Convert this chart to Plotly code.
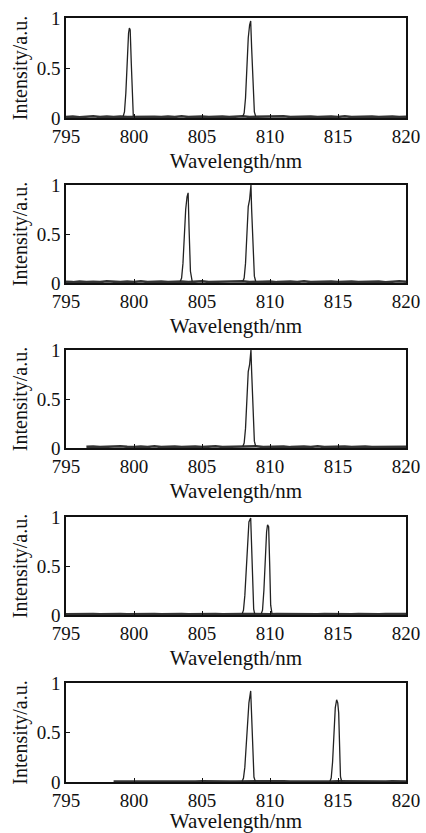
import plotly.graph_objects as go

# ---------------- data ----------------
wl_base = [795.0, 795.5, 796.0, 796.5, 797.0, 797.5, 798.0, 798.5, 799.0, 799.5,
           800.0, 800.5, 801.0, 801.5, 802.0, 802.5, 803.0, 803.5, 804.0, 804.5,
           805.0, 805.5, 806.0, 806.5, 807.0, 807.5, 808.0, 808.5, 809.0, 809.5,
           810.0, 810.5, 811.0, 811.5, 812.0, 812.5, 813.0, 813.5, 814.0, 814.5,
           815.0, 815.5, 816.0, 816.5, 817.0, 817.5, 818.0, 818.5, 819.0, 819.5, 820.0]

noise1 = [0.010, 0.015, 0.008, 0.012, 0.018, 0.010, 0.014, 0.009, 0.016, 0.011,
          0.013, 0.010, 0.017, 0.012, 0.009, 0.015, 0.011, 0.018, 0.010, 0.013,
          0.016, 0.010, 0.012, 0.015, 0.009, 0.014, 0.017, 0.011, 0.013, 0.010,
          0.015, 0.012, 0.018, 0.010, 0.014, 0.011, 0.016, 0.009, 0.013, 0.015,
          0.011, 0.017, 0.010, 0.014, 0.012, 0.016, 0.010, 0.013, 0.015, 0.011, 0.012]
noise2 = [0.012, 0.009, 0.016, 0.011, 0.014, 0.010, 0.017, 0.012, 0.009, 0.015,
          0.011, 0.018, 0.010, 0.013, 0.016, 0.010, 0.012, 0.015, 0.009, 0.014,
          0.017, 0.011, 0.013, 0.010, 0.015, 0.012, 0.018, 0.010, 0.014, 0.011,
          0.016, 0.009, 0.013, 0.015, 0.011, 0.017, 0.010, 0.014, 0.012, 0.016,
          0.010, 0.013, 0.015, 0.011, 0.012, 0.010, 0.015, 0.008, 0.012, 0.018, 0.014]
noise3 = [None, None, None, 0.012, 0.016, 0.010, 0.014, 0.011, 0.017, 0.012,
          0.009, 0.015, 0.011, 0.018, 0.010, 0.013, 0.016, 0.010, 0.012, 0.015,
          0.009, 0.014, 0.017, 0.011, 0.013, 0.010, 0.015, 0.012, 0.018, 0.010,
          0.014, 0.011, 0.016, 0.009, 0.013, 0.015, 0.011, 0.017, 0.010, 0.014,
          0.012, 0.016, 0.010, 0.013, 0.015, 0.011, 0.012, 0.016, 0.010, 0.014, 0.012]
noise4 = [0.008, 0.010, 0.007, 0.009, 0.011, 0.008, 0.010, 0.007, 0.009, 0.008,
          0.010, 0.007, 0.009, 0.011, 0.008, 0.010, 0.007, 0.009, 0.008, 0.010,
          0.011, 0.008, 0.009, 0.007, 0.010, 0.008, 0.009, 0.011, 0.008, 0.010,
          0.007, 0.009, 0.008, 0.010, 0.011, 0.008, 0.009, 0.007, 0.010, 0.008,
          0.009, 0.011, 0.008, 0.010, 0.007, 0.009, 0.008, 0.010, 0.011, 0.008, 0.009]
noise5 = [None, None, None, None, None, None, None, 0.006, 0.007, 0.005,
          0.008, 0.006, 0.005, 0.007, 0.006, 0.005, 0.007, 0.006, 0.005, 0.006,
          0.007, 0.005, 0.006, 0.007, 0.005, 0.006, 0.007, 0.005, 0.006, 0.007,
          0.006, 0.005, 0.007, 0.006, 0.005, 0.006, 0.007, 0.005, 0.006, 0.005,
          0.007, 0.006, 0.005, 0.006, 0.007, 0.005, 0.006, 0.005, 0.007, 0.006, 0.005]

# peak profiles (wavelength nm, normalised intensity)
p1a_x = [799.20, 799.30, 799.40, 799.50, 799.60, 799.66, 799.72, 799.80, 799.88, 799.95]
p1a_y = [0.015, 0.06, 0.25, 0.60, 0.85, 0.90, 0.88, 0.55, 0.12, 0.015]
p1b_x = [808.00, 808.10, 808.20, 808.30, 808.40, 808.50, 808.58, 808.65, 808.75, 808.85, 808.95]
p1b_y = [0.015, 0.05, 0.20, 0.50, 0.80, 0.93, 0.97, 0.70, 0.30, 0.06, 0.015]

p2a_x = [803.40, 803.50, 803.60, 803.70, 803.80, 803.90, 803.98, 804.05, 804.15, 804.28]
p2a_y = [0.015, 0.05, 0.20, 0.50, 0.75, 0.88, 0.92, 0.55, 0.12, 0.015]
p2b_x = [808.00, 808.10, 808.20, 808.30, 808.40, 808.50, 808.60, 808.65, 808.75, 808.85, 808.95]
p2b_y = [0.015, 0.05, 0.20, 0.50, 0.78, 0.85, 1.00, 0.75, 0.35, 0.07, 0.015]

p3a_x = [808.00, 808.10, 808.20, 808.30, 808.40, 808.50, 808.60, 808.65, 808.75, 808.85, 808.95]
p3a_y = [0.015, 0.05, 0.20, 0.50, 0.78, 0.85, 1.00, 0.78, 0.35, 0.07, 0.015]

p4a_x = [807.95, 808.05, 808.15, 808.25, 808.35, 808.45, 808.58, 808.65, 808.72, 808.80, 808.88]
p4a_y = [0.010, 0.05, 0.20, 0.50, 0.80, 0.95, 0.99, 0.75, 0.35, 0.06, 0.010]
p4b_x = [809.35, 809.45, 809.55, 809.65, 809.75, 809.82, 809.90, 809.98, 810.05, 810.15]
p4b_y = [0.010, 0.05, 0.25, 0.60, 0.85, 0.92, 0.90, 0.50, 0.10, 0.010]

p5a_x = [807.95, 808.05, 808.15, 808.25, 808.35, 808.45, 808.58, 808.65, 808.72, 808.82, 808.92]
p5a_y = [0.006, 0.04, 0.15, 0.40, 0.68, 0.80, 0.92, 0.65, 0.30, 0.05, 0.006]
p5b_x = [814.40, 814.50, 814.60, 814.70, 814.80, 814.90, 814.98, 815.05, 815.10, 815.18, 815.22, 815.30]
p5b_y = [0.006, 0.04, 0.20, 0.50, 0.75, 0.83, 0.80, 0.70, 0.30, 0.06, 0.03, 0.006]

panels = [
    (noise1, [(p1a_x, p1a_y), (p1b_x, p1b_y)]),
    (noise2, [(p2a_x, p2a_y), (p2b_x, p2b_y)]),
    (noise3, [(p3a_x, p3a_y)]),
    (noise4, [(p4a_x, p4a_y), (p4b_x, p4b_y)]),
    (noise5, [(p5a_x, p5a_y), (p5b_x, p5b_y)]),
]

x_ticks = [795, 800, 805, 810, 815, 820]
y_ticks = [0, 0.5, 1]
y_ticklabels = ["0", "0.5", "1"]

# ---------------- layout geometry ----------------
W, H = 426, 833
x_dom = [66 / W, 406 / W]
frames_px = [(18, 118), (185, 283), (350, 448), (517, 615), (683, 782)]

FONT = "Liberation Serif, Times New Roman, serif"
fig = go.Figure()
layout = dict(
    width=W, height=H,
    margin=dict(l=0, r=0, t=0, b=0, autoexpand=False),
    paper_bgcolor="white", plot_bgcolor="white",
    showlegend=False,
    font=dict(family=FONT, size=19, color="#111"),
)

for i, (noise, peaks) in enumerate(panels):
    n = i + 1
    xa = "x" if n == 1 else f"x{n}"
    ya = "y" if n == 1 else f"y{n}"
    fig.add_trace(go.Scatter(x=wl_base, y=noise, xaxis=xa, yaxis=ya, mode="lines",
                             line=dict(color="#333", width=2.5), connectgaps=False,
                             hoverinfo="skip"))
    for px, py in peaks:
        fig.add_trace(go.Scatter(x=px, y=py, xaxis=xa, yaxis=ya, mode="lines",
                                 line=dict(color="#222", width=1.3), hoverinfo="skip"))
    top, bot = frames_px[i]
    y_dom = [1 - bot / H, 1 - top / H]
    xkey = "xaxis" if n == 1 else f"xaxis{n}"
    ykey = "yaxis" if n == 1 else f"yaxis{n}"
    layout[xkey] = dict(
        domain=x_dom, anchor=ya, range=[795, 820], automargin=False,
        tickmode="array", tickvals=x_ticks, ticktext=[str(t) for t in x_ticks],
        ticks="inside", ticklen=4, tickcolor="#111", tickwidth=1,
        showline=True, linecolor="#111", linewidth=1.5, mirror=True,
        showgrid=False, zeroline=False,
        tickfont=dict(family=FONT, size=19, color="#111"),
        title=dict(text="Wavelength/nm", font=dict(family=FONT, size=21, color="#111"),
                   standoff=8),
    )
    layout[ykey] = dict(
        domain=y_dom, anchor=xa, range=[0, 1], automargin=False,
        tickmode="array", tickvals=y_ticks, ticktext=y_ticklabels,
        ticks="inside", ticklen=4, tickcolor="#111", tickwidth=1,
        showline=True, linecolor="#111", linewidth=1.5, mirror=True,
        showgrid=False, zeroline=False,
        tickfont=dict(family=FONT, size=19, color="#111"),
        title=dict(text="Intensity/a.u.", font=dict(family=FONT, size=20, color="#111"),
                   standoff=4),
    )

fig.update_layout(**layout)
fig.write_html("out.html", config={"displayModeBar": False},
               post_script="document.body.style.margin='0px';")
